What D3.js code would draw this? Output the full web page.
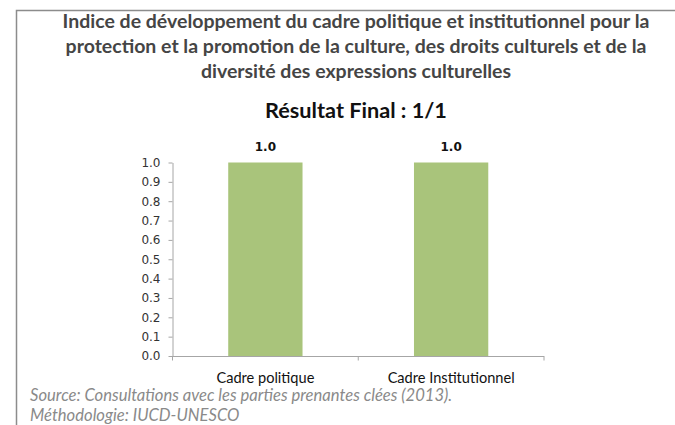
<!DOCTYPE html>
<html>
<head>
<meta charset="utf-8">
<script src="https://cdn.jsdelivr.net/npm/d3@7"></script>
<style>
  body { margin: 0; background: #fff; }
  svg { display: block; }
</style>
</head>
<body>
<script>
// data
var titleLines = [
  "Indice de développement du cadre politique et institutionnel pour la",
  "protection et la promotion de la culture, des droits culturels et de la",
  "diversité des expressions culturelles"
];
var subtitle = "Résultat Final : 1/1";
var categories = ["Cadre politique", "Cadre Institutionnel"];
var values = [1.0, 1.0];
var yTicks = [0, 0.1, 0.2, 0.3, 0.4, 0.5, 0.6, 0.7, 0.8, 0.9, 1.0];
var notes = [
  "Source: Consultations avec les parties prenantes clées (2013).",
  "Méthodologie: IUCD-UNESCO"
];

var width = 675, height = 425;
var cx = 356;
var sans = "Lato, 'Open Sans', sans-serif";

var svg = d3.select("body").append("svg")
  .attr("width", width)
  .attr("height", height);

// frame (top + left edges visible)
svg.append("path")
  .attr("d", "M16.5," + height + "V10.5H" + width)
  .attr("fill", "none")
  .attr("stroke", "#8c8c8c")
  .attr("stroke-width", 1.5);

// shrink/grow a text node so it spans the given width
function fit(sel, target) {
  var w = sel.node().getComputedTextLength();
  var fs = parseFloat(sel.attr("font-size"));
  var size = fs * target / w;
  sel.attr("font-size", size);
  return size;
}

var t1 = svg.append("text")
  .attr("x", cx).attr("y", 27.5)
  .attr("text-anchor", "middle")
  .attr("font-family", sans)
  .attr("font-weight", "bold")
  .attr("font-size", 16)
  .attr("fill", "#454545")
  .text(titleLines[0]);
var titleSize = fit(t1, 587);

titleLines.slice(1).forEach(function(line, i) {
  svg.append("text")
    .attr("x", cx).attr("y", 27.5 + (i + 1) * 25)
    .attr("text-anchor", "middle")
    .attr("font-family", sans)
    .attr("font-weight", "bold")
    .attr("font-size", titleSize)
    .attr("fill", "#454545")
    .text(line);
});

var st = svg.append("text")
  .attr("x", cx).attr("y", 118)
  .attr("text-anchor", "middle")
  .attr("font-family", sans)
  .attr("font-weight", "bold")
  .attr("font-size", 20)
  .attr("fill", "#111")
  .text(subtitle);
fit(st, 182);

// scales
var x = d3.scaleBand()
  .domain(categories)
  .range([172.5, 544])
  .paddingInner(0.6)
  .paddingOuter(0.3);

var y = d3.scaleLinear()
  .domain([0, 1])
  .range([356, 162.5]);

// y axis
var yAxis = svg.append("g")
  .attr("transform", "translate(172.5,0)")
  .call(d3.axisLeft(y).tickValues(yTicks).tickFormat(d3.format(".1f")).tickSize(4).tickSizeOuter(0));
yAxis.select(".domain").attr("stroke", "#a6a6a6");
yAxis.selectAll(".tick line").attr("stroke", "#a6a6a6");
yAxis.selectAll(".tick text")
  .attr("x", -12)
  .attr("font-family", "'DejaVu Sans', Verdana, sans-serif")
  .attr("font-size", 12)
  .attr("fill", "#333");

// bars
svg.selectAll(".bar")
  .data(values)
.enter().append("rect")
  .attr("class", "bar")
  .style("fill", "#a9c47b")
  .attr("x", function(d, i) { return x(categories[i]); })
  .attr("width", x.bandwidth())
  .attr("y", function(d) { return y(d); })
  .attr("height", function(d) { return y(0) - y(d); });

// value labels
svg.selectAll(".val")
  .data(values)
.enter().append("text")
  .attr("class", "val")
  .attr("x", function(d, i) { return x(categories[i]) + x.bandwidth() / 2; })
  .attr("y", function(d) { return y(d) - 12; })
  .attr("text-anchor", "middle")
  .attr("font-family", "'DejaVu Sans', Verdana, sans-serif")
  .attr("font-weight", "bold")
  .attr("font-size", 12)
  .attr("fill", "#111")
  .text(function(d) { return d3.format(".1f")(d); });

// x axis: line with ticks between categories
var xr = x.range();
var xAxis = svg.append("g");
xAxis.append("line")
  .attr("x1", xr[0]).attr("x2", xr[1])
  .attr("y1", y(0) + 0.5).attr("y2", y(0) + 0.5)
  .attr("stroke", "#a6a6a6");
xAxis.selectAll(".xtick")
  .data(d3.range(categories.length + 1))
.enter().append("line")
  .attr("class", "xtick")
  .attr("x1", function(i) { return xr[0] + i * x.step(); })
  .attr("x2", function(i) { return xr[0] + i * x.step(); })
  .attr("y1", y(0)).attr("y2", y(0) + 4.5)
  .attr("stroke", "#a6a6a6");

var catLabels = xAxis.selectAll(".cat")
  .data(categories)
.enter().append("text")
  .attr("class", "cat")
  .attr("x", function(d) { return x(d) + x.bandwidth() / 2; })
  .attr("y", 382.5)
  .attr("text-anchor", "middle")
  .attr("font-family", sans)
  .attr("font-size", 14)
  .attr("fill", "#111")
  .text(function(d) { return d; });
var catSize = fit(d3.select(catLabels.nodes()[0]), 98);
catLabels.attr("font-size", catSize);

// notes
var noteSize = 16.6;
notes.forEach(function(line, i) {
  svg.append("text")
    .attr("x", 30).attr("y", 400.5 + i * 20)
    .attr("font-family", sans)
    .attr("font-style", "italic")
    .attr("font-size", noteSize)
    .attr("fill", "#8a8a8a")
    .text(line);
});
</script>
</body>
</html>
